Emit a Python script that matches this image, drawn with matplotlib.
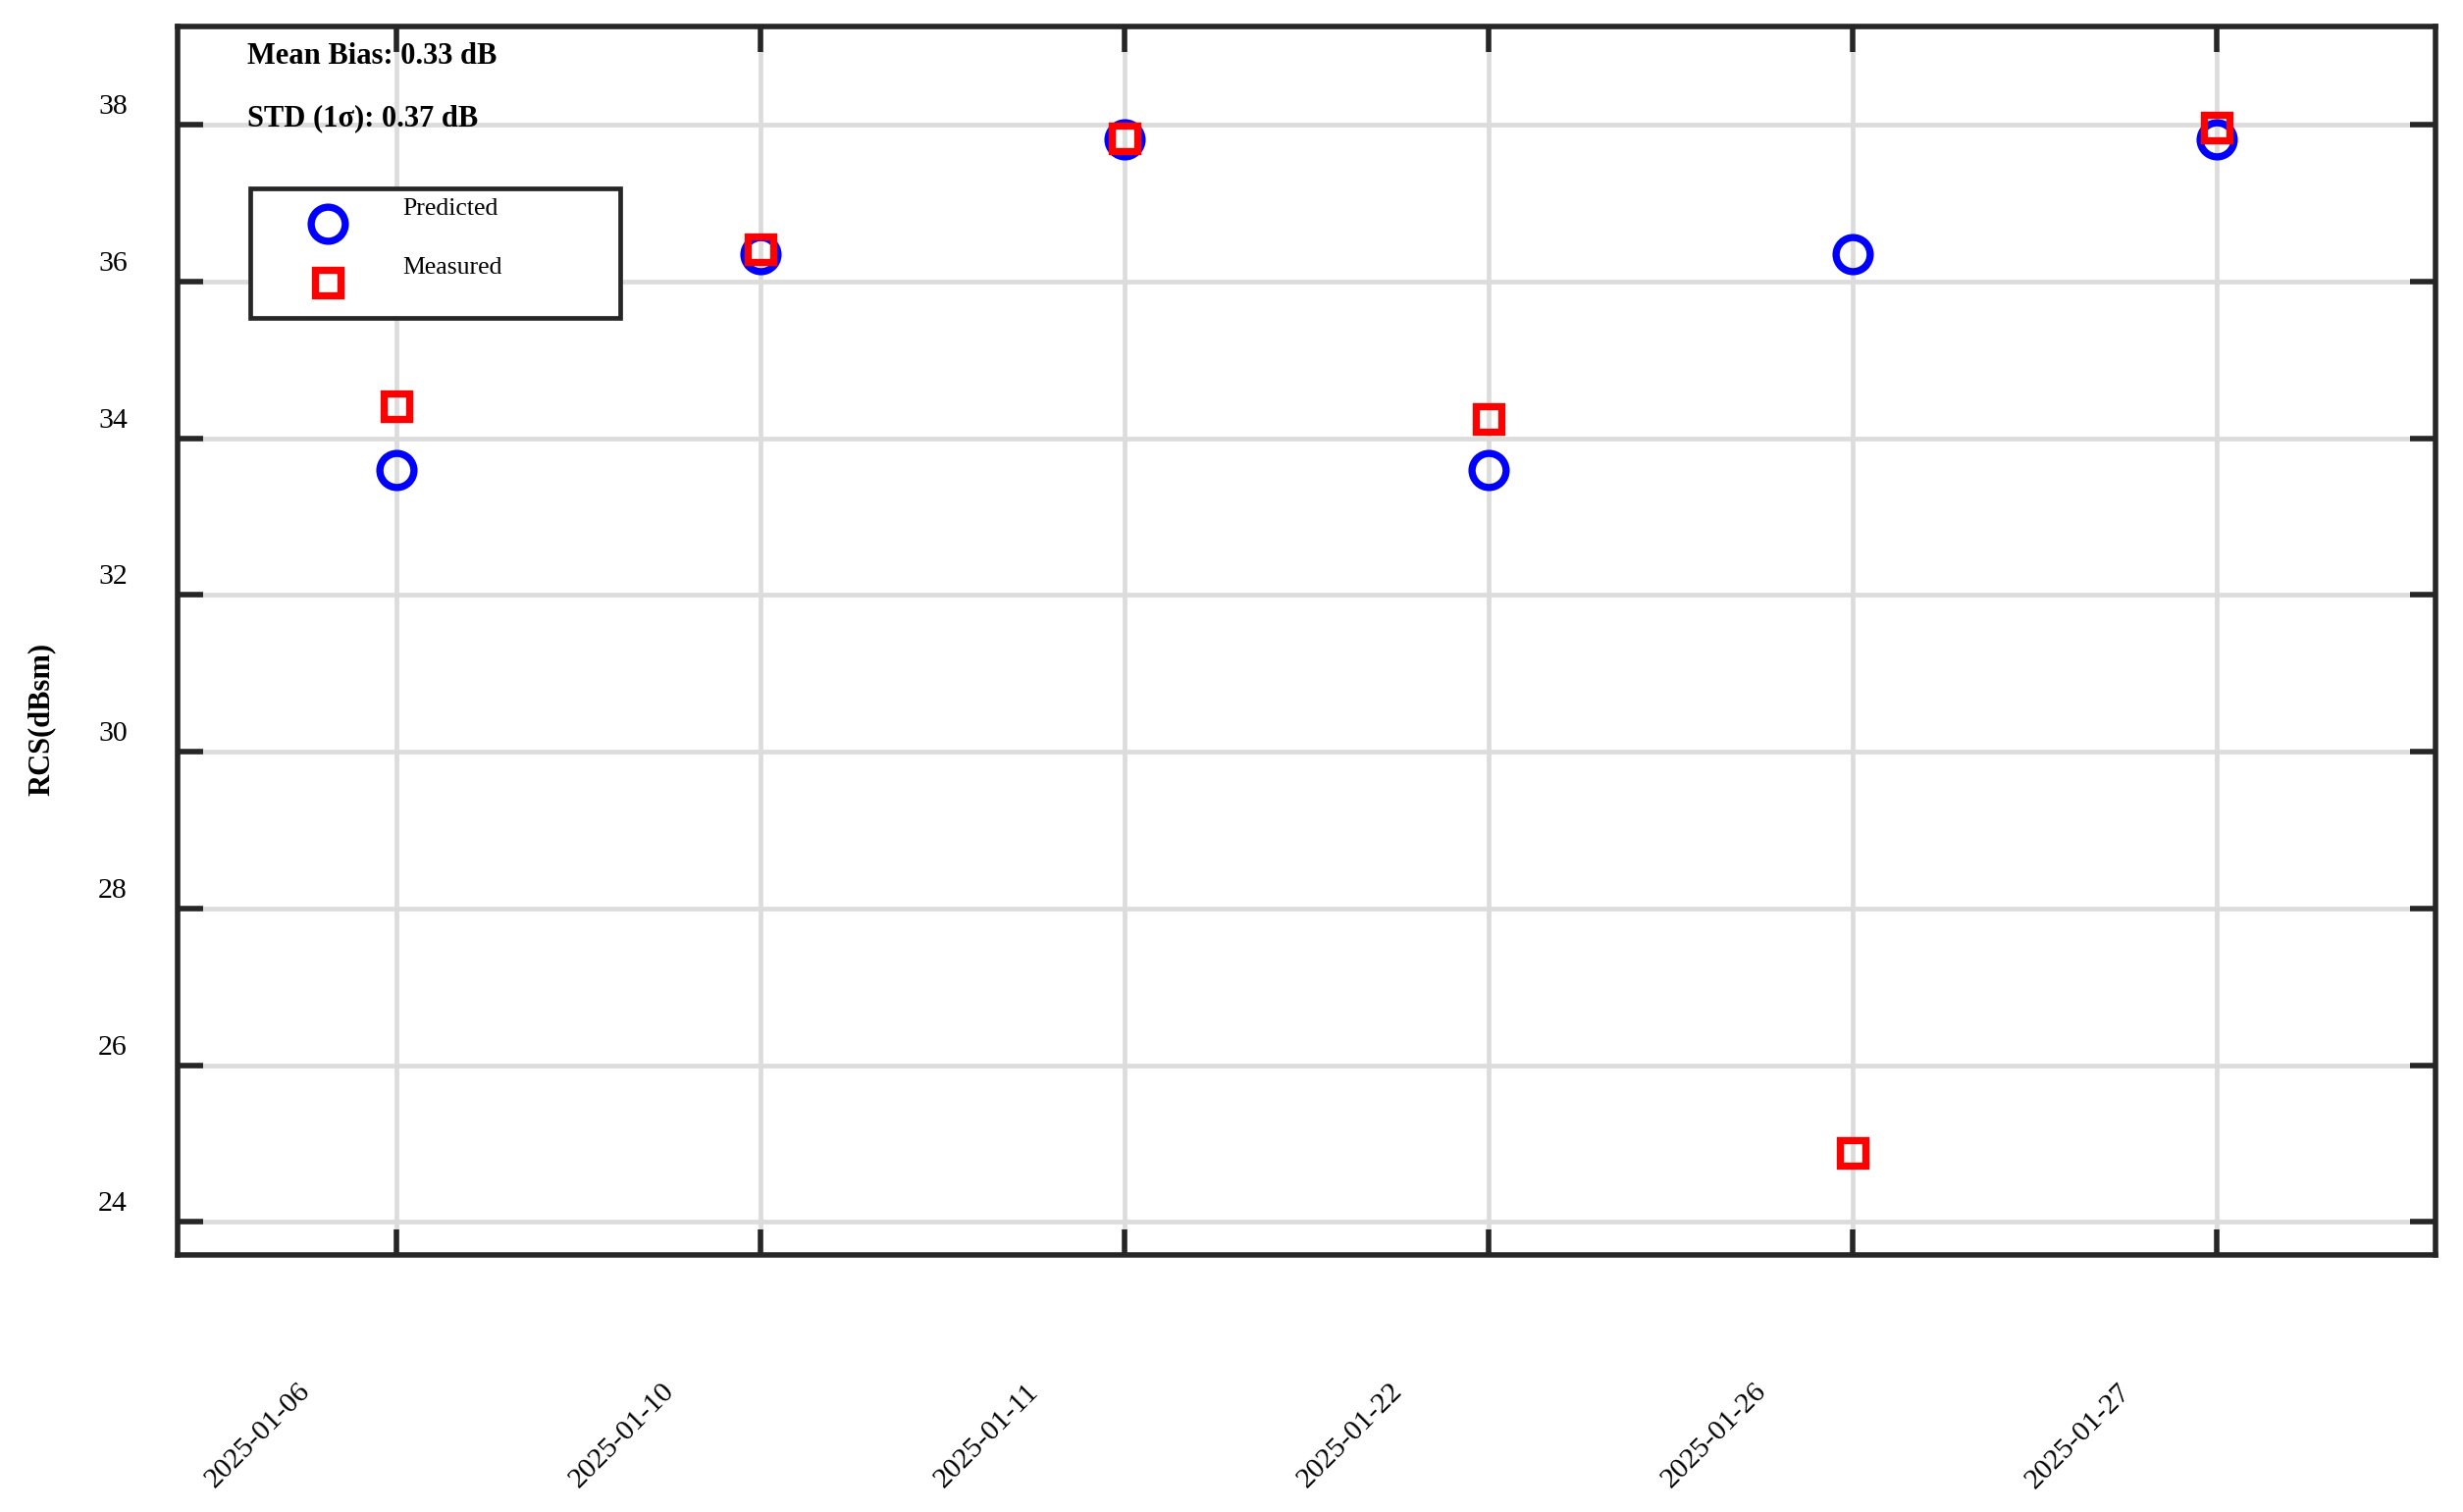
import numpy as np
import matplotlib
matplotlib.use('Agg')
import matplotlib.pyplot as plt
from matplotlib.transforms import ScaledTranslation
from matplotlib.patches import Rectangle

# ---- data ----
dates = ['2025-01-06', '2025-01-10', '2025-01-11', '2025-01-22', '2025-01-26', '2025-01-27']
predicted = [33.59, 36.35, 37.82, 33.59, 36.35, 37.82]
measured = [34.41, 36.41, 37.83, 34.24, 24.88, 37.96]
yticks = [24, 26, 28, 30, 32, 34, 36, 38]
mean_bias_text = 'Mean Bias: 0.33 dB'
std_text = 'STD (1σ): 0.37 dB'

plt.rcParams['font.family'] = ['Liberation Serif', 'DejaVu Serif']

fig = plt.figure(figsize=(25.1, 15.41), dpi=100)
ax = fig.add_axes([0.07211, 0.17002, 0.91662, 0.81278])

x = np.arange(len(dates))
ax.plot(x, predicted, ls='none', marker='o', ms=25, mew=5.3, mfc='none',
        mec='#0000ff', label='Predicted', zorder=3)
ax.plot(x, measured, ls='none', marker='s', ms=19, mew=5.3, mfc='none',
        mec='#ff0000', label='Measured', zorder=4)

ax.set_xlim(-0.6, 5.6)
ax.set_ylim(23.58, 39.26)

ax.grid(True, color='#dcdcdc', lw=3.4)
ax.set_axisbelow(True)
for s in ax.spines.values():
    s.set_linewidth(4)
    s.set_color('#262626')
ax.tick_params(axis='both', which='major', direction='in', length=19, width=4,
               color='#262626', top=True, right=True, pad=0, labelsize=21.5)

ax.set_xticks(x)
ax.set_xticklabels(dates, rotation=45, ha='right', va='top', rotation_mode='anchor')
ax.set_yticks(yticks)
ax.set_yticklabels([str(v) for v in yticks], va='baseline')

for lbl in ax.get_xticklabels():
    lbl.set_transform(lbl.get_transform() +
                      ScaledTranslation(-101 / 100, -126 / 100, fig.dpi_scale_trans))
for lbl in ax.get_yticklabels():
    lbl.set_transform(lbl.get_transform() +
                      ScaledTranslation(-51 / 100, 11 / 100, fig.dpi_scale_trans))

ax.set_ylabel('RCS(dBsm)', fontsize=22, fontweight='bold')
ax.yaxis.set_label_coords(-0.0539, 0.4357)

ax.text(0.0309, 0.9693, mean_bias_text, transform=ax.transAxes, fontsize=22,
        fontweight='bold', va='baseline', ha='left')
ax.text(0.0309, 0.919, std_text, transform=ax.transAxes, fontsize=22,
        fontweight='bold', va='baseline', ha='left')

# legend
frame = Rectangle((0.032, 0.7625), 0.164, 0.1056, transform=ax.transAxes,
                  facecolor='white', edgecolor='#262626', lw=3.4, zorder=4.5)
ax.add_patch(frame)
leg = ax.legend(loc='upper left', bbox_to_anchor=(0.0553, 0.846), frameon=False,
                fontsize=18.5, handlelength=2.0, handletextpad=1.98, borderpad=0,
                borderaxespad=0, labelspacing=1.44, numpoints=1)
leg.set_zorder(6)
for t in leg.get_texts():
    t.set_y(18)

fig.savefig('out.png', dpi=100)
